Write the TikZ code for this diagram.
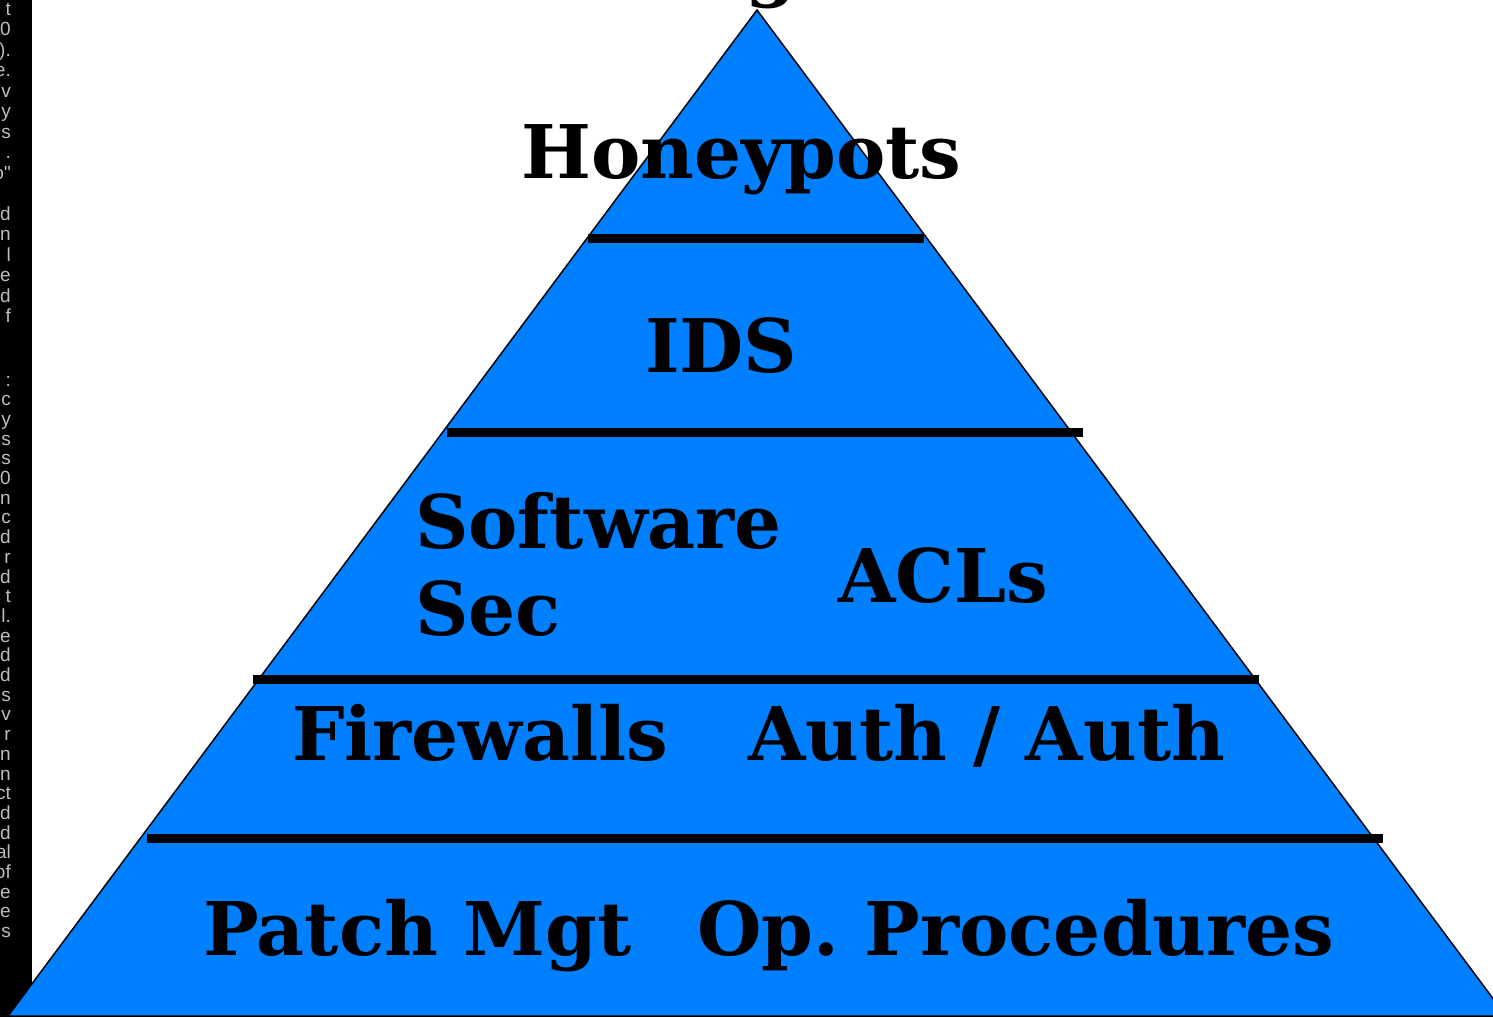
\documentclass[tikz,border=0pt]{standalone}
\usepackage{fontspec}
\setmainfont{DejaVu Serif}
\newfontfamily\sidefont{Liberation Sans}
\frenchspacing
\definecolor{pyrblue}{RGB}{0,128,255}
\definecolor{sidegray}{RGB}{190,190,190}
\tikzset{
  layertext/.style={inner sep=0pt, anchor=base west, font=\fontsize{74bp}{90bp}\selectfont\bfseries},
  layerbar/.style={line width=9bp, black},
  sidechar/.style={inner sep=0pt, anchor=base east, text=sidegray, font=\sidefont\fontsize{19bp}{22bp}\selectfont},
}
\begin{document}
\begin{tikzpicture}[x=1bp,y=-1bp]
  \useasboundingbox (0,0) rectangle (1493,1017);
  \clip (0,0) rectangle (1493,1017);
  \fill[white] (0,0) rectangle (1493,1017);
  % dark margin strip with cut-off text lines
  \fill[black] (0,0) rectangle (32,1017);
  \foreach \c [count=\i] in {t,0,{).},{e.},v,y,s,.,{o"},{},d,n,l,e,d,f} {
    \node[sidechar] (sa\i) at (11,{15+20.5*(\i-1)}) {\c};
  }
  \foreach \c [count=\i] in {:,c,y,s,s,0,n,c,d,r,d,t,{l.},e,d,d,s,v,r,n,n,{ct},d,d,{al},{of},e,e,s} {
    \node[sidechar] (sb\i) at (11,{386+19.7*(\i-1)}) {\c};
  }
  % heading, only its descender is inside the page
  \node[layertext] (title) at (745,-8) {g};
  % pyramid
  \coordinate (apex) at (757,10);
  \coordinate (baseL) at (8,1016);
  \coordinate (baseR) at (1506,1016);
  \filldraw[fill=pyrblue, draw=black, line width=1.5bp] (apex) -- (baseL) -- (baseR) -- cycle;
  % layer separators
  \coordinate (b1l) at (588,238.5);  \coordinate (b1r) at (924,238.5);
  \coordinate (b2l) at (447,432.5);  \coordinate (b2r) at (1083,432.5);
  \coordinate (b3l) at (253,679.5);  \coordinate (b3r) at (1259,679.5);
  \coordinate (b4l) at (147,838.5);  \coordinate (b4r) at (1383,838.5);
  \draw[layerbar] (b1l) -- (b1r);
  \draw[layerbar] (b2l) -- (b2r);
  \draw[layerbar] (b3l) -- (b3r);
  \draw[layerbar] (b4l) -- (b4r);
  % layer labels
  \node[layertext] (honey) at (521,178) {Honeypots};
  \node[layertext] (ids) at (645,372) {IDS};
  \node[layertext] (soft) at (415,548) {Software};
  \node[layertext] (sec) at (415,635) {Sec};
  \node[layertext] (acl) at (838,602) {ACLs};
  \node[layertext] (fw) at (292,760) {Firewalls};
  \node[layertext] (auth) at (748,760) {Auth / Auth};
  \node[layertext] (patch) at (203,955) {Patch Mgt};
  \node[layertext] (ops) at (697,955) {Op. Procedures};
\end{tikzpicture}
\end{document}
